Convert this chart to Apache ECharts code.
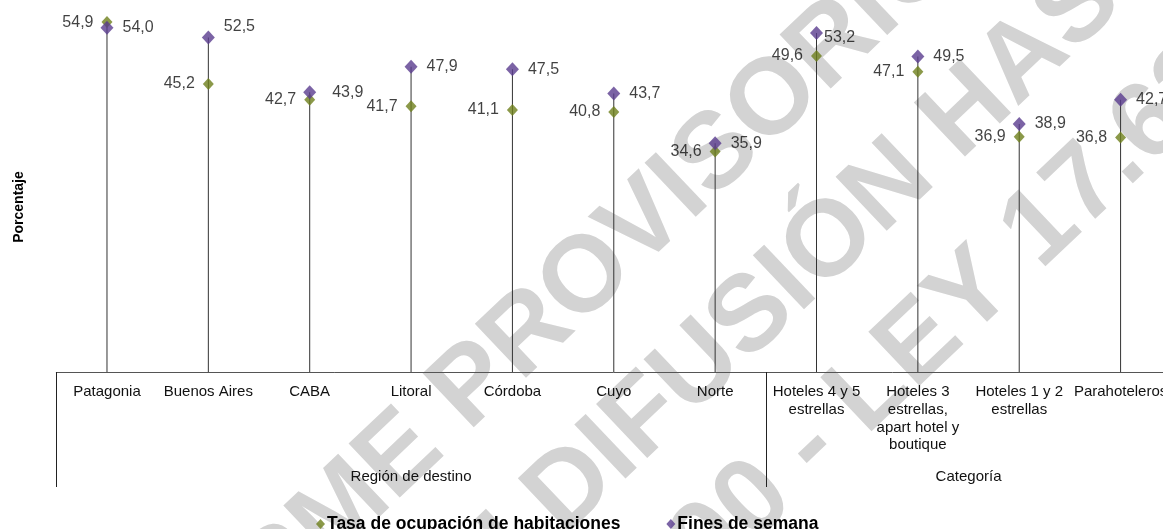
<!DOCTYPE html>
<html>
<head>
<meta charset="utf-8">
<script src="https://cdn.jsdelivr.net/npm/echarts@6/dist/echarts.min.js"></script>
<style>
html,body{margin:0;padding:0;background:#fff;overflow:hidden;}
#wrap{position:relative;width:1163px;height:529px;overflow:hidden;}
#chart{position:absolute;left:0;top:-11px;width:1180px;height:540px;}
</style>
</head>
<body>
<div id="wrap"><div id="chart"></div></div>
<script>
// ---- data ----
const categories = ['Patagonia', 'Buenos Aires', 'CABA', 'Litoral', 'Córdoba', 'Cuyo', 'Norte',
  'Hoteles 4 y 5\nestrellas', 'Hoteles 3\nestrellas,\napart hotel y\nboutique', 'Hoteles 1 y 2\nestrellas', 'Parahoteleros'];
const tasaOcupacion = [54.9, 45.2, 42.7, 41.7, 41.1, 40.8, 34.6, 49.6, 47.1, 36.9, 36.8];
const finesSemana = [54.0, 52.5, 43.9, 47.9, 47.5, 43.7, 35.9, 53.2, 49.5, 38.9, 42.7];
const groupNames = ['Región de destino', 'Categoría'];
const groupSizes = [7, 4];
const seriesNames = ['Tasa de ocupación de habitaciones', 'Fines de semana'];
const yAxisName = 'Porcentaje';
// watermark lines, split at the character that is anchored
const watermarkParts = [
  ['INFORME PROVISO', 'RIO'],
  ['PROHIBIDA SU DIFUSI', 'ÓN HASTA'],
  ['EL 17/6 A LAS 16:00 ', '- LEY 17.622']
];

// ---- layout / style ----
const OFF = 11;                 // chart canvas is shifted up by OFF px
const CW = 1180, CH = 540;
const band = 101.36;
const gridLeft = 56.3, gridBottom = CH - (372 + OFF), yMax = 60;
const plotH = 6.373 * yMax;
const gridTop = CH - gridBottom - plotH;
const gridWidth = band * categories.length;
const FONT = '"Liberation Sans", Arial, Helvetica, sans-serif';
const green = '#6E7F1C', purple = '#5A3C8E';
// manual label nudges (like hand-moved labels in the original)
const finesLabelNudge = { 1: [0, -11], 2: [7, 0], 7: [-8, 5] };

const fmt = v => v.toFixed(1).replace('.', ',');
const stems = tasaOcupacion.map((v, i) => Math.max(v, finesSemana[i]));

const groupStarts = [];
let acc = 0;
groupSizes.forEach(s => { groupStarts.push(acc); acc += s; });
const groupLabelAt = {};
groupSizes.forEach((s, g) => {
  const idx = groupStarts[g] + Math.floor((s - 1) / 2);
  groupLabelAt[idx] = { name: groupNames[g], shift: (s % 2 === 0) };
});

const chart = echarts.init(document.getElementById('chart'), null, { renderer: 'canvas', width: CW, height: CH });

// watermark: anchor = left edge (on the mid line) of the split character
const theta = 43.5 * Math.PI / 180;
const wmAnchors = [[805, 72], [800, 272], [798, 460]];
const wmStyle = { fontSize: 108, fontWeight: 'bold', fontFamily: FONT, fill: '#d3d3d3', verticalAlign: 'middle', textVerticalAlign: 'middle' };
const wmGraphics = [];
watermarkParts.forEach((parts, k) => {
  const [ax, ay] = wmAnchors[k];
  wmGraphics.push({
    type: 'text', z: -10, silent: true, x: ax, y: ay + OFF, rotation: theta,
    style: Object.assign({ text: parts[0], align: 'right', textAlign: 'right' }, wmStyle)
  });
  wmGraphics.push({
    type: 'text', z: -10, silent: true, x: ax, y: ay + OFF, rotation: theta,
    style: Object.assign({ text: parts[1], align: 'left', textAlign: 'left' }, wmStyle)
  });
});

const option = {
  animation: false,
  backgroundColor: '#fff',
  grid: { left: gridLeft, width: gridWidth, top: gridTop, bottom: gridBottom, containLabel: false },
  legend: {
    data: seriesNames.map(n => ({ name: n, icon: 'diamond' })),
    left: 311, top: 510 + OFF,
    itemWidth: 9, itemHeight: 10, itemGap: 46,
    textStyle: { fontFamily: FONT, fontSize: 17.5, fontWeight: 'bold', color: '#000', padding: [0, 0, 0, -3] }
  },
  xAxis: [{
    type: 'category', data: categories, boundaryGap: true,
    axisLine: { show: true, lineStyle: { color: '#555', width: 1 } },
    axisTick: { show: false },
    axisLabel: { interval: 0, margin: 11, fontFamily: FONT, fontSize: 15, color: '#111', lineHeight: 17.8 }
  }, {
    type: 'category', data: categories, boundaryGap: true, position: 'bottom', offset: 0,
    axisLine: { show: false },
    axisTick: { show: true, length: 115, interval: (i) => groupStarts.indexOf(i) >= 0, lineStyle: { color: '#222', width: 1 } },
    axisLabel: {
      interval: 0, margin: 97,
      formatter: (v, i) => groupLabelAt[i] ? (groupLabelAt[i].shift ? '{s|' + groupLabelAt[i].name + '}' : groupLabelAt[i].name) : '',
      fontFamily: FONT, fontSize: 15, color: '#111',
      rich: { s: { fontFamily: FONT, fontSize: 15, color: '#111', padding: [0, 0, 0, band] } }
    }
  }],
  yAxis: {
    type: 'value', min: 0, max: yMax, show: false, splitLine: { show: false }
  },
  graphic: wmGraphics.concat([{
    type: 'text', x: 19, y: 207 + OFF, rotation: Math.PI / 2,
    style: { text: yAxisName, font: 'bold 14px ' + FONT, fill: '#000', align: 'center', verticalAlign: 'middle', textAlign: 'center', textVerticalAlign: 'middle' }
  }]),
  series: [{
    type: 'bar', data: stems, barWidth: 1, silent: true, z: 1,
    itemStyle: { color: '#333' }, legendHoverLink: false
  }, {
    name: seriesNames[0], type: 'scatter', data: tasaOcupacion, z: 3,
    symbol: 'diamond', symbolSize: [11, 12],
    itemStyle: { color: green },
    label: { show: true, position: 'left', distance: 8, formatter: p => fmt(p.value), fontFamily: FONT, fontSize: 16, color: '#111' }
  }, {
    name: seriesNames[1], type: 'scatter', z: 4,
    data: finesSemana.map((v, i) => finesLabelNudge[i] ? { value: v, label: { offset: finesLabelNudge[i] } } : v),
    symbol: 'diamond', symbolSize: [13, 14],
    itemStyle: { color: purple },
    label: { show: true, position: 'right', distance: 9, formatter: p => fmt(p.value), fontFamily: FONT, fontSize: 16, color: '#111' }
  }]
};
chart.setOption(option);
</script>
</body>
</html>
